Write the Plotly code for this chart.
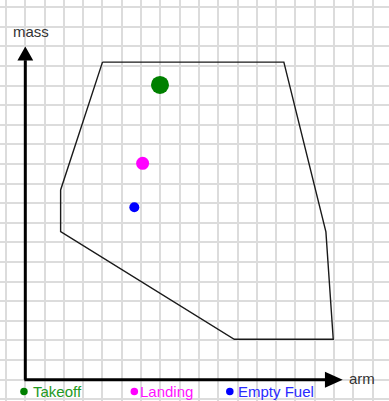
import plotly.graph_objects as go

# ---- data (arm / mass in grid units) ----
envelope_arm = [4.0, 13.4, 15.58, 15.96, 10.83, 1.83, 1.83, 4.0]
envelope_mass = [16.2, 16.2, 7.54, 2.06, 2.06, 7.55, 9.68, 16.2]

point_names = ["Takeoff", "Landing", "Empty Fuel"]
point_arm = [6.98, 6.08, 5.65]
point_mass = [15.04, 11.04, 8.8]
point_colors = ["#008000", "#ff00ff", "#0000ff"]
text_colors = ["#229922", "#ff11ff", "#2a2aff"]
point_sizes = [18, 13, 10]

legend_dot_arm = [-0.07, 5.65, 10.6]
legend_text_arm = [0.28, 5.86, 10.94]
legend_row = -0.6

x_label = "arm"
y_label = "mass"

FONT = "Arial, Liberation Sans, sans-serif"

# ---- figure ----
fig = go.Figure()

# envelope
fig.add_trace(go.Scatter(x=envelope_arm, y=envelope_mass, mode="lines",
                         line=dict(color="#1a1a1a", width=1.4),
                         hoverinfo="skip", showlegend=False))

# CG points
for n, xa, ym, c, s in zip(point_names, point_arm, point_mass, point_colors, point_sizes):
    fig.add_trace(go.Scatter(x=[xa], y=[ym], mode="markers", name=n,
                             marker=dict(color=c, size=s, line=dict(width=0)),
                             showlegend=False))

# legend dots
fig.add_trace(go.Scatter(x=legend_dot_arm, y=[legend_row] * 3, mode="markers",
                         marker=dict(color=point_colors, size=7.5, line=dict(width=0)),
                         hoverinfo="skip", showlegend=False))
for n, xa, c in zip(point_names, legend_text_arm, text_colors):
    fig.add_annotation(x=xa, y=legend_row, text=n, showarrow=False,
                       xanchor="left", yanchor="middle",
                       font=dict(family=FONT, size=15, color=c))

# axes with arrows
AX_W = 3
fig.add_shape(type="line", x0=0, y0=0, x1=0, y1=16.3, line=dict(color="black", width=AX_W))
fig.add_shape(type="line", x0=-0.05, y0=0, x1=15.55, y1=0, line=dict(color="black", width=AX_W))
fig.add_shape(type="path", path="M -0.41,16.28 L 0.41,16.28 L 0,17.0 Z",
              fillcolor="black", line=dict(color="black", width=0))
fig.add_shape(type="path", path="M 15.53,0.41 L 15.53,-0.41 L 16.45,0 Z",
              fillcolor="black", line=dict(color="black", width=0))

fig.add_annotation(x=0.27, y=17.76, text=y_label, showarrow=False,
                   xanchor="center", yanchor="middle",
                   font=dict(family=FONT, size=15, color="#333333"))
fig.add_annotation(x=16.66, y=0.04, text=x_label, showarrow=False,
                   xanchor="left", yanchor="middle",
                   font=dict(family=FONT, size=15, color="#333333"))

grid = dict(showgrid=True, gridcolor="#dcdcdc", gridwidth=2, dtick=1, tick0=0,
            showticklabels=False, zeroline=False, showline=False, ticks="",
            fixedrange=True)
fig.update_layout(
    width=389, height=401,
    margin=dict(l=0, r=0, t=0, b=0, pad=0),
    paper_bgcolor="white", plot_bgcolor="white",
    xaxis=dict(range=[-1.312, 18.85], **grid),
    yaxis=dict(range=[-1.087, 19.37], **grid),
    showlegend=False,
)

fig.write_html("out.html", config={"displayModeBar": False},
               post_script="document.body.style.margin='0';")
